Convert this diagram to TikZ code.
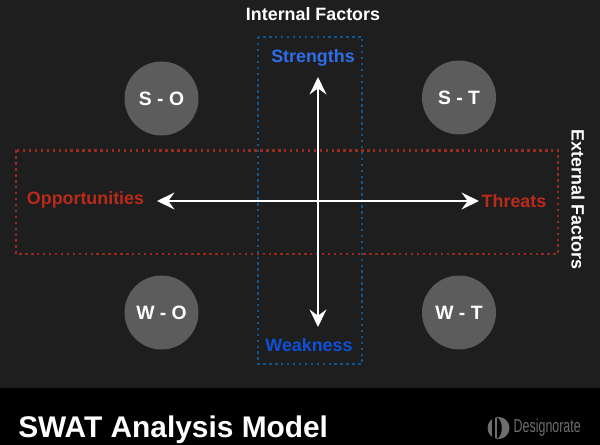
\documentclass[tikz,border=0pt]{standalone}
\usepackage{fontspec}
\setmainfont{Liberation Sans}
\usetikzlibrary{arrows.meta}
\definecolor{bgdark}{HTML}{1E1E1E}
\definecolor{dotblue}{HTML}{0F5590}
\definecolor{dotred}{HTML}{962C20}
\definecolor{txtred}{HTML}{B92A1A}
\definecolor{circ}{HTML}{5C5C5C}
\definecolor{logogray}{HTML}{6E6E6E}
\tikzset{
  lbl/.style={font=\fontsize{13.4pt}{15pt}\selectfont\bfseries,inner sep=0pt},
  dotbox/.style={line width=2pt,dash pattern=on 1.8pt off 2.65pt},
  quad/.style={circle,fill=circ,minimum size=55.5pt,inner sep=0pt,text=white,font=\fontsize{14.5pt}{16pt}\selectfont\bfseries},
  arr/.style={draw=white,line width=2.2pt,{Stealth[length=13pt,width=12.5pt,inset=4.5pt]}-{Stealth[length=13pt,width=12.5pt,inset=4.5pt]}}
}
\begin{document}
\begin{tikzpicture}[x=0.75pt,y=-0.75pt]
\useasboundingbox (0,0) rectangle (600,445);
\fill[bgdark] (0,0) rectangle (600,388);
\fill[black] (0,388) rectangle (600,445);
\draw[dotbox,dotblue] (258,37) rectangle (362,364);
\draw[dotbox,dotred] (16,150.5) rectangle (558,254);
\node[quad] (so) at (161.5,98.5) {S - O};
\node[quad] (st) at (459,97.5) {S - T};
\node[quad] (wo) at (161.5,312.5) {W - O};
\node[quad] (wt) at (459,312.5) {W - T};
\node[lbl,text=white] (internal) at (313,14) {Internal Factors};
\node[lbl,text=white,rotate=-90] (external) at (578,199.5) {External Factors};
\node[lbl,text={rgb,255:red,47;green,110;blue,232}] (str) at (313,58) {Strengths};
\node[lbl,text={rgb,255:red,16;green,80;blue,216}] (weak) at (309,345) {Weakness};
\node[lbl,text=txtred] (opp) at (85.5,200) {Opportunities};
\node[lbl,text=txtred] (thr) at (514,201) {Threats};
\coordinate (top) at (318,77);
\coordinate (bot) at (318,327);
\coordinate (lft) at (157,201);
\coordinate (rgt) at (479,201);
\draw[arr] (top) -- (bot);
\draw[arr] (lft) -- (rgt);
\node[anchor=west,text=white,inner sep=0pt,font=\fontsize{22.4pt}{24pt}\selectfont\bfseries] (title) at (18,429.5) {SWAT Analysis Model};
\fill[logogray] (498.5,428) circle (11);
\fill[black] (491.5,416) rectangle (494.5,440);
\fill[black] (498,418) .. controls (503,422) and (503,434) .. (498,438) -- (497,438) -- (497,418) -- cycle;
\node[anchor=west,inner sep=0pt,text=logogray,xscale=0.667,transform shape,font=\fontsize{14pt}{16pt}\selectfont] (logo) at (513.5,428) {Designorate};
\end{tikzpicture}
\end{document}
